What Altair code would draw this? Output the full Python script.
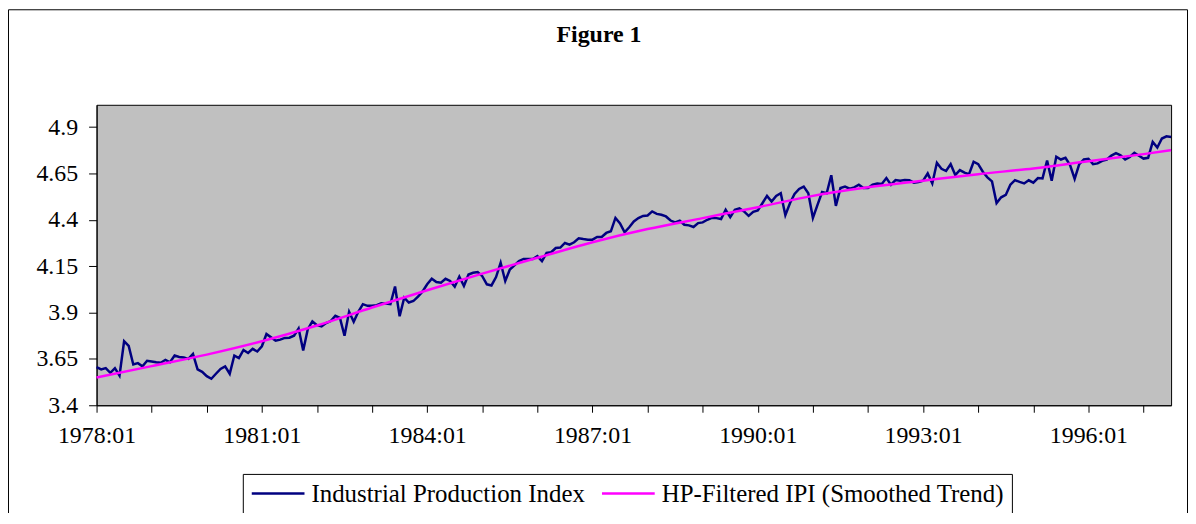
import altair as alt
import pandas as pd

# Monthly Industrial Production Index (log), 1978:01 .. 1997:07
ipi = [
    3.605, 3.593, 3.600, 3.575, 3.600, 3.560, 3.745, 3.720, 3.620, 3.627, 3.610, 3.640,
    3.636, 3.632, 3.629, 3.645, 3.632, 3.668, 3.660, 3.657, 3.650, 3.677, 3.593, 3.580,
    3.557, 3.543, 3.570, 3.596, 3.610, 3.570, 3.668, 3.654, 3.698, 3.682, 3.704, 3.690,
    3.718, 3.784, 3.766, 3.748, 3.754, 3.763, 3.764, 3.775, 3.814, 3.695, 3.810, 3.852,
    3.832, 3.825, 3.843, 3.854, 3.882, 3.871, 3.775, 3.904, 3.850, 3.904, 3.945, 3.936,
    3.936, 3.940, 3.950, 3.948, 3.945, 4.040, 3.880, 3.980, 3.954, 3.962, 3.986, 4.014,
    4.052, 4.082, 4.064, 4.061, 4.082, 4.070, 4.039, 4.093, 4.043, 4.105, 4.114, 4.118,
    4.096, 4.052, 4.046, 4.091, 4.168, 4.070, 4.132, 4.154, 4.177, 4.189, 4.188, 4.188,
    4.204, 4.177, 4.221, 4.225, 4.248, 4.250, 4.275, 4.266, 4.279, 4.300, 4.296, 4.293,
    4.293, 4.307, 4.307, 4.329, 4.338, 4.410, 4.380, 4.332, 4.360, 4.391, 4.409, 4.421,
    4.423, 4.445, 4.432, 4.427, 4.418, 4.396, 4.386, 4.395, 4.373, 4.370, 4.361, 4.382,
    4.386, 4.400, 4.411, 4.409, 4.404, 4.454, 4.414, 4.454, 4.461, 4.445, 4.421, 4.443,
    4.450, 4.489, 4.529, 4.498, 4.529, 4.543, 4.425, 4.489, 4.539, 4.566, 4.579, 4.543,
    4.410, 4.480, 4.550, 4.543, 4.640, 4.475, 4.571, 4.579, 4.568, 4.575, 4.589, 4.571,
    4.571, 4.589, 4.596, 4.593, 4.625, 4.589, 4.614, 4.611, 4.614, 4.613, 4.600, 4.604,
    4.611, 4.650, 4.596, 4.707, 4.675, 4.663, 4.700, 4.641, 4.668, 4.654, 4.646, 4.713,
    4.700, 4.659, 4.629, 4.607, 4.490, 4.521, 4.534, 4.589, 4.614, 4.604, 4.596, 4.613,
    4.600, 4.625, 4.623, 4.720, 4.610, 4.740, 4.725, 4.734, 4.695, 4.620, 4.700, 4.725,
    4.729, 4.700, 4.704, 4.718, 4.725, 4.746, 4.759, 4.748, 4.725, 4.739, 4.761, 4.745,
    4.730, 4.734, 4.820, 4.790, 4.838, 4.850, 4.846,
]

# HP-filtered trend read at yearly points (month index from 1978:01)
trend_idx = [0, 12, 24, 36, 48, 60, 72, 84, 96, 108, 120, 132, 144, 156, 168, 180,
             192, 204, 216, 228, 234]
trend_val = [3.550, 3.611, 3.673, 3.745, 3.830, 3.927, 4.020, 4.110, 4.195, 4.279,
             4.350, 4.409, 4.468, 4.529, 4.575, 4.611, 4.646, 4.677, 4.716, 4.754, 4.775]

series_names = ["Industrial Production Index", "HP-Filtered IPI (Smoothed Trend)"]
series_colors = ["#000080", "#FF00FF"]
y_ticks = [3.4, 3.65, 3.9, 4.15, 4.4, 4.65, 4.9]
x_ticks = list(range(0, 235, 12))

df_ipi = pd.DataFrame({"m": list(range(len(ipi))), "v": ipi, "s": series_names[0]})
df_tr = pd.DataFrame({"m": trend_idx, "v": trend_val, "s": series_names[1]})

FONT = "Liberation Serif"

x_enc = alt.X("m:Q", scale=alt.Scale(domain=[0, 234], nice=False, zero=False),
              axis=alt.Axis(values=x_ticks, title=None, grid=False,
                            labelExpr="datum.value % 36 == 0 ? (1978 + datum.value / 12) + ':01' : ''",
                            tickSize=7, labelPadding=11, labelFont=FONT, labelFontSize=24,
                            labelColor="black", tickColor="black", domainColor="black",
                            labelFlush=False, labelOverlap=False))
y_enc = alt.Y("v:Q", scale=alt.Scale(domain=[3.4, 5.02], nice=False, zero=False),
              axis=alt.Axis(values=y_ticks, title=None, grid=False,
                            labelExpr="format(datum.value, '.3~g')",
                            tickSize=8, labelPadding=11, labelFont=FONT, labelFontSize=24,
                            labelColor="black", tickColor="black", domainColor="black"))
color_scale = alt.Scale(domain=series_names, range=series_colors)

ipi_line = alt.Chart(df_ipi).mark_line(strokeWidth=2.5).encode(
    x=x_enc, y=y_enc,
    color=alt.Color("s:N", scale=color_scale, legend=alt.Legend(title=None)),
    order="m:Q",
)
trend_line = alt.Chart(df_tr).mark_line(strokeWidth=2.5, interpolate="monotone").encode(
    x=x_enc, y=y_enc,
    color=alt.Color("s:N", scale=color_scale, legend=alt.Legend(title=None)),
    order="m:Q",
)

frame = alt.Chart(pd.DataFrame({"k": [1]})).mark_rect(
    fill="transparent", stroke="black", strokeWidth=1
).encode(x=alt.value(-88.5), x2=alt.value(1096.5), y=alt.value(-95.5), y2=alt.value(430))

title = alt.Chart(pd.DataFrame({"t": ["Figure 1"]})).mark_text(
    font=FONT, fontSize=24, fontWeight="bold", align="center", baseline="alphabetic",
    color="black"
).encode(x=alt.value(505), y=alt.value(-63), text="t:N")

chart = alt.layer(frame, title, ipi_line, trend_line).properties(
    width=1080, height=302,
    autosize=alt.AutoSizeParams(type="none"),
    padding={"left": 89, "top": 96, "right": 17, "bottom": 107},
    background="white",
).configure_view(
    fill="#C0C0C0", stroke="black", strokeWidth=1
).configure_legend(
    orient="none", legendX=147, legendY=371, direction="horizontal",
    fillColor="white", strokeColor="black", padding=7,
    symbolType="M-2.65,0H2.65", symbolSize=400, symbolStrokeWidth=2.5,
    symbolOffset=16, labelOffset=21,
    labelFont=FONT, labelFontSize=25, labelColor="black", labelLimit=600,
    columnPadding=12, cornerRadius=0,
)

chart.save("out.html", embed_options={"renderer": "svg", "actions": False})
